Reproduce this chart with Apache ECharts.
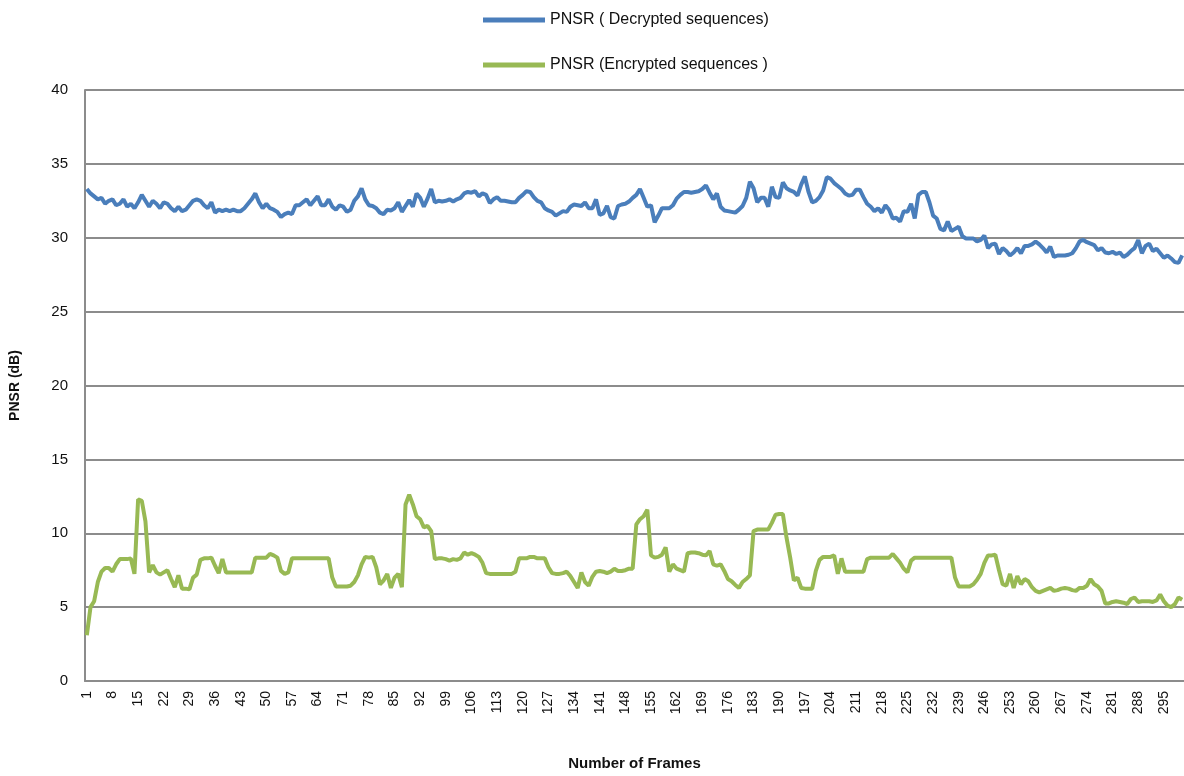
<!DOCTYPE html>
<html>
<head>
<meta charset="utf-8">
<script src="https://cdn.jsdelivr.net/npm/echarts@6/dist/echarts.min.js"></script>
<style>
  html, body { margin: 0; padding: 0; background: #fff; }
  #main { width: 1184px; height: 776px; }
</style>
</head>
<body>
<div id="main"></div>
<script>
// frame numbers on the x axis (1..300)
var frames = [];
for (var i = 1; i <= 300; i++) frames.push(String(i));

// PSNR of the decrypted sequences
var decrypted = [
  33.3, 33.0, 32.8, 32.6, 32.7, 32.3, 32.5, 32.6, 32.2, 32.3,
  32.6, 32.1, 32.3, 32.0, 32.4, 32.9, 32.5, 32.1, 32.5, 32.3,
  32.0, 32.4, 32.3, 32.0, 31.8, 32.1, 31.8, 31.9, 32.2, 32.5,
  32.6, 32.5, 32.2, 32.0, 32.4, 31.7, 31.9, 31.8, 31.9, 31.8,
  31.9, 31.8, 31.8, 32.0, 32.3, 32.6, 33.0, 32.4, 32.0, 32.3,
  32.0, 31.9, 31.75, 31.4, 31.6, 31.7, 31.6, 32.2, 32.2, 32.4,
  32.6, 32.2, 32.5, 32.8, 32.2, 32.2, 32.6, 32.1, 31.9, 32.2,
  32.1, 31.75, 31.9, 32.5, 32.8, 33.35, 32.6, 32.2, 32.15, 32.0,
  31.7, 31.6, 31.9, 31.85, 32.0, 32.4, 31.75, 32.15, 32.55, 32.1,
  33.0, 32.7, 32.1, 32.65, 33.3, 32.4, 32.5, 32.45, 32.5, 32.6,
  32.45, 32.6, 32.7, 33.0, 33.1, 33.05, 33.15, 32.8, 33.0, 32.9,
  32.35, 32.6, 32.75, 32.5, 32.5, 32.45, 32.4, 32.4, 32.7, 32.9,
  33.15, 33.1, 32.75, 32.5, 32.4, 32.0, 31.85, 31.75, 31.5, 31.65,
  31.8, 31.75, 32.1, 32.25, 32.2, 32.15, 32.4, 32.0, 32.0, 32.6,
  31.55, 31.65, 32.15, 31.4, 31.3, 32.15, 32.25, 32.3, 32.45, 32.7,
  32.9, 33.3, 32.7, 32.1, 32.2, 31.05, 31.5, 32.0, 32.0, 32.0,
  32.2, 32.65, 32.9, 33.1, 33.1, 33.05, 33.1, 33.15, 33.3, 33.55,
  33.05, 32.6, 33.0, 32.1, 31.85, 31.8, 31.75, 31.7, 31.9, 32.15,
  32.7, 33.8, 33.35, 32.4, 32.7, 32.7, 32.1, 33.45, 32.75, 32.7,
  33.75, 33.35, 33.2, 33.1, 32.85, 33.6, 34.15, 33.1, 32.4, 32.5,
  32.75, 33.2, 34.1, 34.0, 33.7, 33.5, 33.3, 33.0, 32.85, 32.9,
  33.25, 33.25, 32.75, 32.3, 32.1, 31.8, 32.0, 31.7, 32.2, 31.9,
  31.3, 31.35, 31.1, 31.8, 31.75, 32.3, 31.3, 32.9, 33.1, 33.1,
  32.4, 31.5, 31.3, 30.6, 30.5, 31.1, 30.45, 30.6, 30.75, 30.1,
  29.95, 29.95, 29.95, 29.75, 29.85, 30.15, 29.3, 29.55, 29.6, 28.9,
  29.3, 29.1, 28.8, 29.0, 29.3, 28.95, 29.45, 29.45, 29.55, 29.75,
  29.55, 29.3, 29.0, 29.4, 28.7, 28.8, 28.8, 28.8, 28.85, 28.95,
  29.3, 29.75, 29.85, 29.7, 29.6, 29.5, 29.15, 29.3, 29.0, 28.95,
  29.05, 28.9, 29.0, 28.7, 28.85, 29.1, 29.3, 29.85, 28.95, 29.45,
  29.6, 29.1, 29.25, 28.95, 28.65, 28.8, 28.6, 28.35, 28.3, 28.8
];

// PSNR of the encrypted sequences
var encrypted = [
  3.1, 5.0, 5.4, 6.7, 7.4, 7.65, 7.65, 7.4, 7.9, 8.25,
  8.25, 8.25, 8.3, 7.25, 12.3, 12.2, 10.8, 7.35, 7.85, 7.35,
  7.2, 7.35, 7.5, 6.9, 6.35, 7.15, 6.25, 6.25, 6.2, 7.0,
  7.2, 8.2, 8.3, 8.3, 8.35, 7.8, 7.3, 8.25, 7.35, 7.35,
  7.35, 7.35, 7.35, 7.35, 7.35, 7.35, 8.35, 8.35, 8.35, 8.35,
  8.6, 8.5, 8.35, 7.45, 7.25, 7.35, 8.3, 8.3, 8.3, 8.3,
  8.3, 8.3, 8.3, 8.3, 8.3, 8.3, 8.3, 7.0, 6.4, 6.4,
  6.4, 6.4, 6.45, 6.7, 7.15, 7.9, 8.4, 8.35, 8.4, 7.7,
  6.55, 6.8, 7.25, 6.3, 7.0, 7.25, 6.35, 11.95, 12.6, 11.95,
  11.15, 10.95, 10.4, 10.5, 10.15, 8.25, 8.3, 8.3, 8.25, 8.15,
  8.25, 8.2, 8.3, 8.7, 8.55, 8.65, 8.55, 8.4, 8.0, 7.3,
  7.25, 7.25, 7.25, 7.25, 7.25, 7.25, 7.25, 7.4, 8.3, 8.3,
  8.3, 8.4, 8.4, 8.3, 8.3, 8.3, 7.7, 7.3, 7.25, 7.25,
  7.3, 7.4, 7.1, 6.7, 6.3, 7.35, 6.7, 6.45, 7.05, 7.4,
  7.45, 7.4, 7.3, 7.4, 7.6, 7.45, 7.45, 7.5, 7.6, 7.6,
  10.6, 10.95, 11.15, 11.6, 8.5, 8.35, 8.4, 8.55, 9.05, 7.4,
  7.9, 7.6, 7.5, 7.4, 8.65, 8.7, 8.7, 8.65, 8.55, 8.5,
  8.8, 7.9, 7.8, 7.9, 7.45, 6.9, 6.75, 6.5, 6.3, 6.7,
  6.9, 7.15, 10.15, 10.25, 10.25, 10.25, 10.25, 10.7, 11.25, 11.3,
  11.3, 9.7, 8.35, 6.8, 7.0, 6.3, 6.25, 6.25, 6.25, 7.45,
  8.2, 8.4, 8.4, 8.4, 8.5, 7.25, 8.3, 7.4, 7.4, 7.4,
  7.4, 7.4, 7.4, 8.25, 8.35, 8.35, 8.35, 8.35, 8.35, 8.35,
  8.6, 8.3, 8.0, 7.6, 7.35, 8.15, 8.35, 8.35, 8.35, 8.35,
  8.35, 8.35, 8.35, 8.35, 8.35, 8.35, 8.35, 7.0, 6.4, 6.4,
  6.4, 6.4, 6.55, 6.85, 7.25, 8.0, 8.5, 8.5, 8.55, 7.5,
  6.55, 6.45, 7.25, 6.3, 7.1, 6.55, 6.9, 6.75, 6.35, 6.1,
  6.0, 6.1, 6.2, 6.3, 6.1, 6.15, 6.25, 6.3, 6.25, 6.15,
  6.1, 6.3, 6.3, 6.45, 6.9, 6.55, 6.4, 6.1, 5.25, 5.25,
  5.35, 5.4, 5.35, 5.3, 5.2, 5.55, 5.65, 5.35, 5.4, 5.4,
  5.4, 5.35, 5.45, 5.85, 5.4, 5.1, 5.0, 5.2, 5.65, 5.5
];

var yTicks = { min: 0, max: 40, step: 5 };

var chart = echarts.init(document.getElementById('main'));
chart.setOption({
  animation: false,
  textStyle: { fontFamily: 'Liberation Sans, sans-serif', color: '#111' },
  legend: {
    orient: 'vertical',
    left: 478,
    top: 7,
    itemWidth: 62,
    itemHeight: 5,
    itemGap: 29,
    icon: 'rect',
    textStyle: { fontSize: 16, color: '#111', fontFamily: 'Liberation Sans Narrow, Liberation Sans, sans-serif' },
    data: ['PNSR ( Decrypted sequences)', 'PNSR (Encrypted sequences )']
  },
  grid: { left: 82, top: 90, width: 1105, height: 597 },
  xAxis: {
    type: 'category',
    data: frames,
    name: 'Number of Frames',
    nameLocation: 'middle',
    nameGap: 75,
    nameTextStyle: { fontSize: 15, fontWeight: 'bold', color: '#111', fontFamily: 'Liberation Sans Narrow, Liberation Sans, sans-serif' },
    axisLine: { lineStyle: { color: '#8c8c8c', width: 2 } },
    axisTick: { show: false },
    axisLabel: { interval: 6, rotate: 90, fontSize: 14, color: '#111', margin: 10 }
  },
  yAxis: {
    type: 'value',
    min: yTicks.min,
    max: yTicks.max,
    interval: yTicks.step,
    name: 'PNSR (dB)',
    nameLocation: 'middle',
    nameRotate: 90,
    nameGap: 63,
    nameTextStyle: { fontSize: 14, fontWeight: 'bold', color: '#111' },
    axisLine: { show: true, lineStyle: { color: '#8c8c8c', width: 2 } },
    axisTick: { show: false },
    axisLabel: { fontSize: 15, color: '#111', margin: 17 },
    splitLine: { lineStyle: { color: '#8c8c8c', width: 2 } }
  },
  series: [
    {
      name: 'PNSR ( Decrypted sequences)',
      type: 'line',
      data: decrypted,
      showSymbol: false,
      color: '#4a7ebb',
      lineStyle: { width: 4, color: '#4a7ebb' }
    },
    {
      name: 'PNSR (Encrypted sequences )',
      type: 'line',
      data: encrypted,
      showSymbol: false,
      color: '#98b954',
      lineStyle: { width: 4, color: '#98b954' }
    }
  ]
});
</script>
</body>
</html>
